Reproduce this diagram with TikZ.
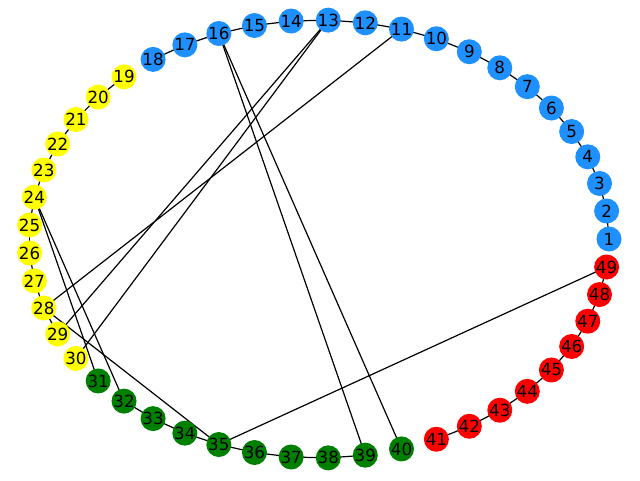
\documentclass[tikz,border=0pt]{standalone}
\usepackage{fontspec}
\setmainfont{DejaVu Sans}
\begin{document}
\begin{tikzpicture}[x=1pt,y=-1pt,
  vtx/.style={circle,minimum size=25pt,inner sep=0pt,font=\fontsize{16.7}{18}\selectfont},
  edge/.style={draw=black,line width=1.2pt}]
\useasboundingbox (0,0) rectangle (640,480);
\definecolor{cblue}{RGB}{30,144,255}
\definecolor{cyellow}{RGB}{255,255,0}
\definecolor{cgreen}{RGB}{0,128,0}
\definecolor{cred}{RGB}{255,0,0}
% coordinates first
\foreach \i in {1,...,49}{
  \pgfmathsetmacro\ang{(\i-1)*(360/49)}
  \coordinate (p\i) at ({319+290*cos(\ang)},{239-219*sin(\ang)});
}
% edges
\foreach \a/\b in {1/2,2/3,3/4,4/5,5/6,6/7,7/8,8/9,9/10,10/11,11/12,12/13,13/14,14/15,15/16,16/17,17/18,
  19/20,20/21,21/22,22/23,23/24,24/25,25/26,26/27,27/28,28/29,
  32/33,33/34,34/35,35/36,36/37,37/38,38/39,
  41/42,42/43,43/44,44/45,45/46,46/47,47/48,48/49,
  11/28,13/29,13/30,16/39,16/40,24/31,24/32,28/35,35/49}
  \draw[edge] (p\a) -- (p\b);
% nodes
\foreach \i in {1,...,49}{
  \ifnum\i<19 \def\col{cblue}\else
    \ifnum\i<31 \def\col{cyellow}\else
      \ifnum\i<41 \def\col{cgreen}\else \def\col{cred}\fi\fi\fi
  \node[vtx,fill=\col] (n\i) at (p\i) {\i};
}
\end{tikzpicture}
\end{document}
